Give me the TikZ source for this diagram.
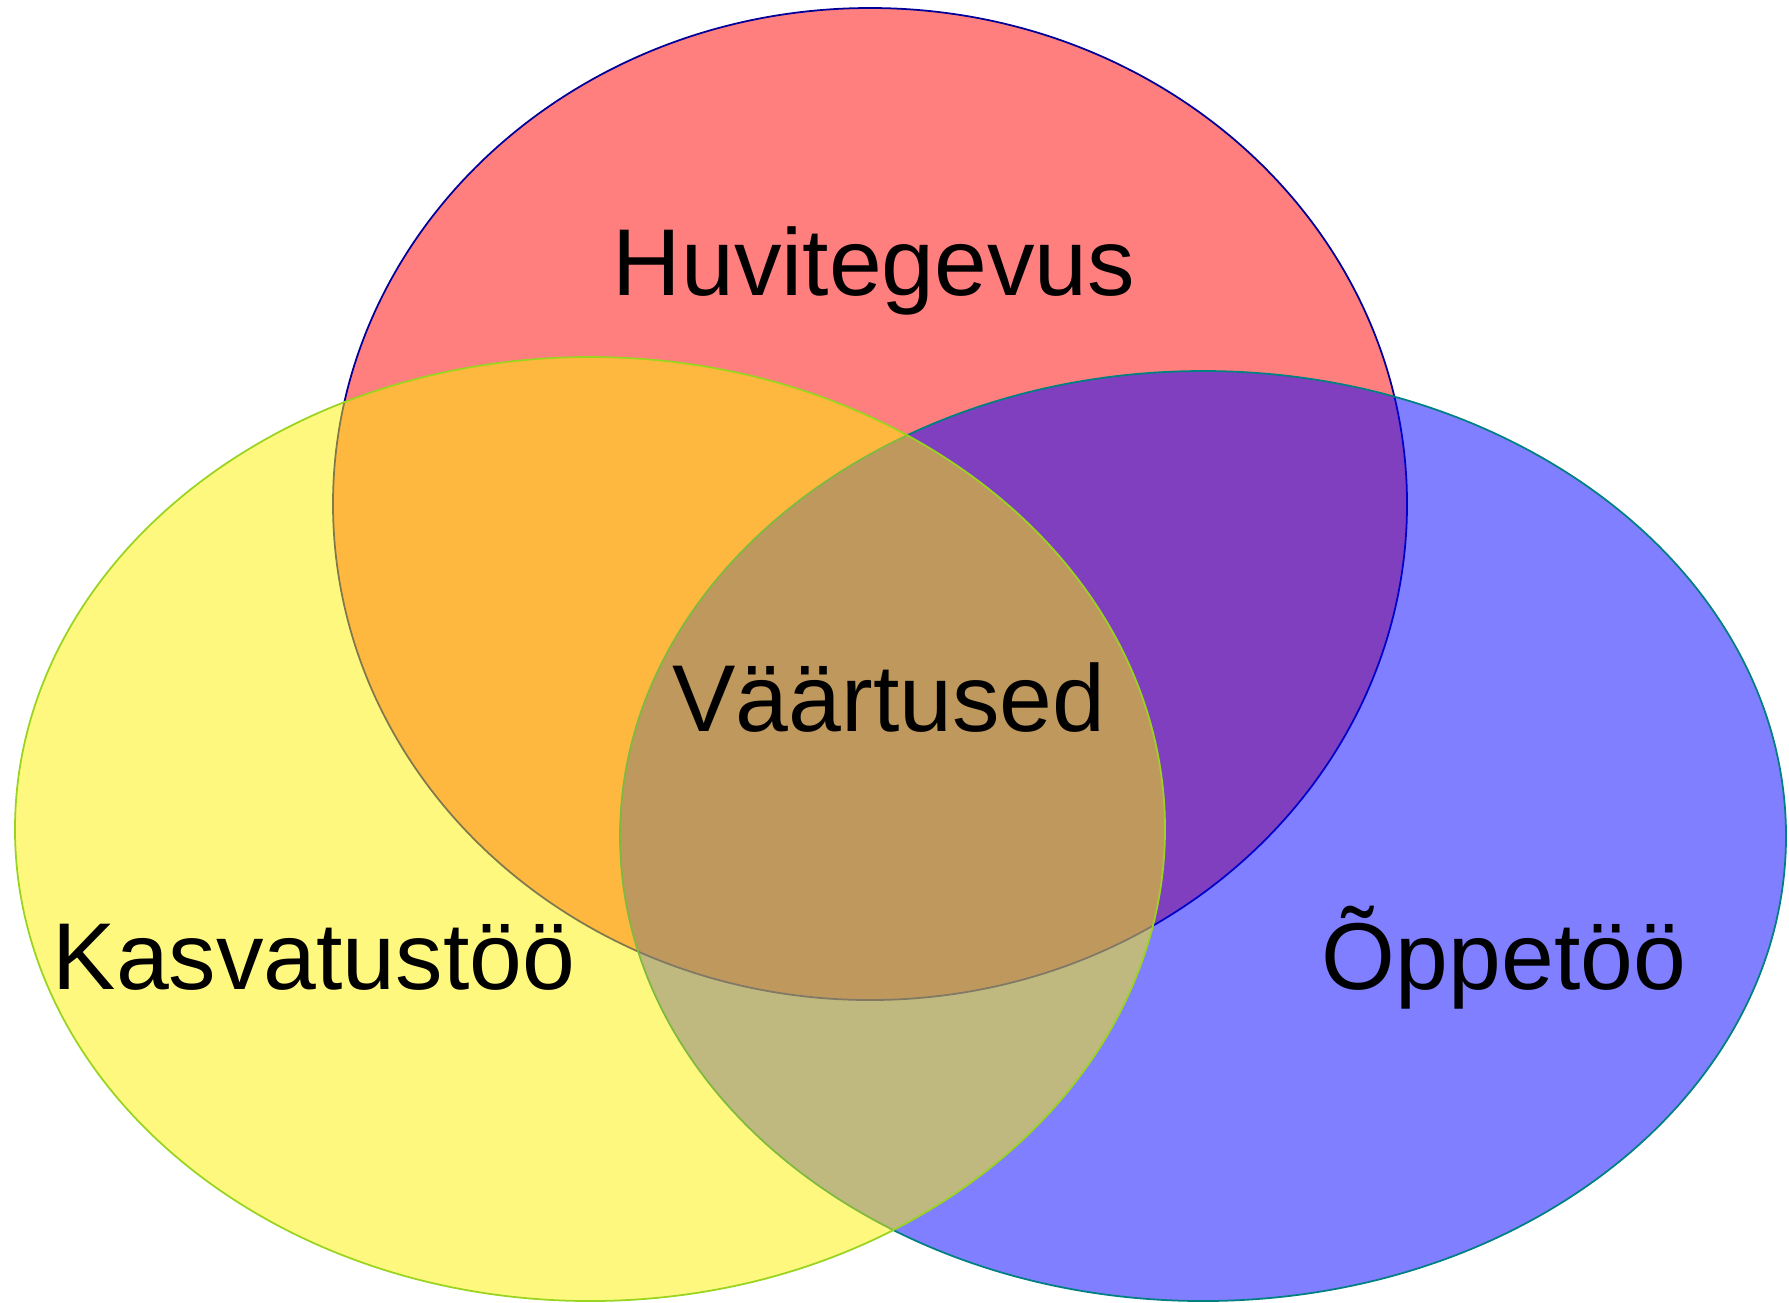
\documentclass[tikz,border=0pt]{standalone}
\usepackage{fontspec}
\setmainfont{Liberation Sans}

\begin{document}
\begin{tikzpicture}[x=0.01cm,y=-0.01cm,
    setname/.style={font=\fontsize{27}{32}\selectfont,anchor=base,inner sep=0pt},
    venn/.style={fill opacity=0.5,line width=0.5pt}]
            \useasboundingbox (0,0) rectangle (1789,1302);

            %%% COORDINATES %%%
            \coordinate (H) at (870,504);
            \coordinate (K) at (590,829);
            \coordinate (O) at (1203,836);

            %%% SETS %%%
            \filldraw[venn,fill=red,draw=blue!60!black] (H) ellipse [x radius=537,y radius=496];
            \filldraw[venn,fill=blue,draw=teal] (O) ellipse [x radius=583,y radius=465];
            \filldraw[venn,fill=yellow,draw=yellow!60!green] (K) ellipse [x radius=575,y radius=472];

            %%% NAMES %%%
            \node[setname] (huvi) at (874,295) {Huvitegevus};
            \node[setname] (vaart) at (889,731) {Väärtused};
            \node[setname] (kasv) at (314,989) {Kasvatustöö};
            \node[setname] (oppe) at (1504,989) {Õppetöö};
        \end{tikzpicture}
\end{document}
